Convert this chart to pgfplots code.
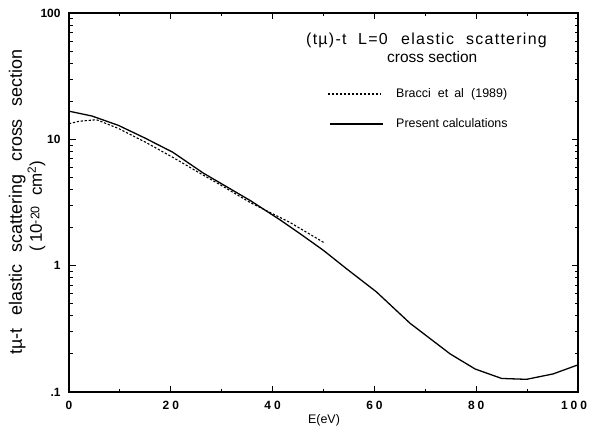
\documentclass[border=0pt]{standalone}
\usepackage{fontspec}
\setmainfont{Liberation Sans}
\newfontfamily\tickfont[LetterSpace=25]{Liberation Sans}
\newfontfamily\wideA[LetterSpace=8]{Liberation Sans}
\usepackage{pgfplots}
\pgfplotsset{compat=1.18}

\begin{document}
\begin{tikzpicture}
% page = 589 x 427 bp, axis box at (69,13)-(578,392) in reference pixels
\useasboundingbox (-69bp,-35bp) rectangle (520bp,392bp);
\begin{axis}[
    at={(0,0)}, anchor=south west,
    scale only axis,
    width=509bp, height=379bp,
    ymode=log,
    xmin=0, xmax=100,
    ymin=0.1, ymax=100,
    xtick={0,20,40,60,80,100},
    xticklabels={0,20,40,60,80,{\hspace{-8bp}100}},
    minor xtick={10,30,50,70,90},
    ytick={0.1,1,10,100},
    yticklabels={.1,1,10,100},
    minor ytick={0.2,0.3,0.4,0.5,0.6,0.7,0.8,0.9,2,3,4,5,6,7,8,9,20,30,40,50,60,70,80,90},
    tick align=inside,
    major tick length=6.5bp,
    minor tick length=3.5bp,
    every tick/.style={black, line width=1bp},
    axis line style={line width=1.4bp},
    /pgf/number format/assume math mode=true,
    yticklabel style={font=\fontsize{12}{14}\selectfont\bfseries, xshift=-5bp},
    xticklabel style={font=\tickfont\fontsize{12}{14}\selectfont\bfseries, yshift=-6bp},
    clip=false,
]
% Bracci et al (1989)
\addplot[black, line width=1.1bp, dash pattern=on 2.2bp off 1.8bp] coordinates {
    (0,13.3)(2,13.9)(5.4,14.3)(9.7,12.2)(15,9.5)(20.4,7.2)(26.4,5.2)
    (30,4.3)(35.6,3.16)(43.4,2.2)(50,1.53)
};
% Present calculations
\addplot[black, line width=1.3bp] coordinates {
    (0,16.7)(4.5,15.3)(9.7,12.9)(15,10.2)(20.4,7.9)(26.4,5.4)(35.6,3.28)
    (41.5,2.3)(45.4,1.79)(50,1.32)(54.6,0.94)(60.4,0.62)(67,0.35)
    (74.9,0.20)(79.8,0.152)(85,0.128)(89.9,0.126)(95.1,0.139)(100,0.164)
};
\end{axis}
% text placed in reference pixel coordinates (x right, y down)
\begin{scope}[shift={(-69bp,392bp)}, x=1bp, y=-1bp]
\node[anchor=base west, inner sep=0pt, font=\wideA\fontsize{16}{18}\selectfont] at (306,45) {(t\textmu)-t};
\node[anchor=base west, inner sep=0pt, font=\wideA\fontsize{16}{18}\selectfont] at (358,45) {L=0};
\node[anchor=base west, inner sep=0pt, font=\wideA\fontsize{16}{18}\selectfont] at (401,45) {elastic};
\node[anchor=base west, inner sep=0pt, font=\wideA\fontsize{16}{18}\selectfont] at (466,45) {scattering};
\node[anchor=base west, inner sep=0pt, font=\fontsize{15.5}{17}\selectfont] at (387,63) {cross section};
\draw[line width=1.1bp, dash pattern=on 2.2bp off 1.8bp] (328,94) -- (381,94);
\node[anchor=base west, inner sep=0pt, font=\fontsize{12.5}{14}\selectfont] at (396,98) {Bracci\hspace{0.3em} et\hspace{0.2em} al\hspace{0.3em} (1989)};
\draw[line width=1.3bp] (330,124) -- (383,124);
\node[anchor=base west, inner sep=0pt, font=\fontsize{12.5}{14}\selectfont] at (396,128) {Present calculations};
\node[anchor=base, inner sep=0pt, font=\fontsize{12.5}{14}\selectfont] at (324,424) {E(eV)};
\node[anchor=base, inner sep=0pt, rotate=90, font=\fontsize{18}{20}\selectfont] at (22,202)
    {t\textmu-t\hspace{0.7em}elastic\hspace{0.7em}scattering\hspace{0.7em}cross\hspace{0.7em}section};
\node[anchor=base, inner sep=0pt, rotate=90, font=\fontsize{17}{19}\selectfont] at (42,206)
    {(\,10\raisebox{0.3ex}{\fontsize{12.5}{14}\selectfont -20}\hspace{0.6em}cm\textsuperscript{2})};
\end{scope}
\end{tikzpicture}
\end{document}
